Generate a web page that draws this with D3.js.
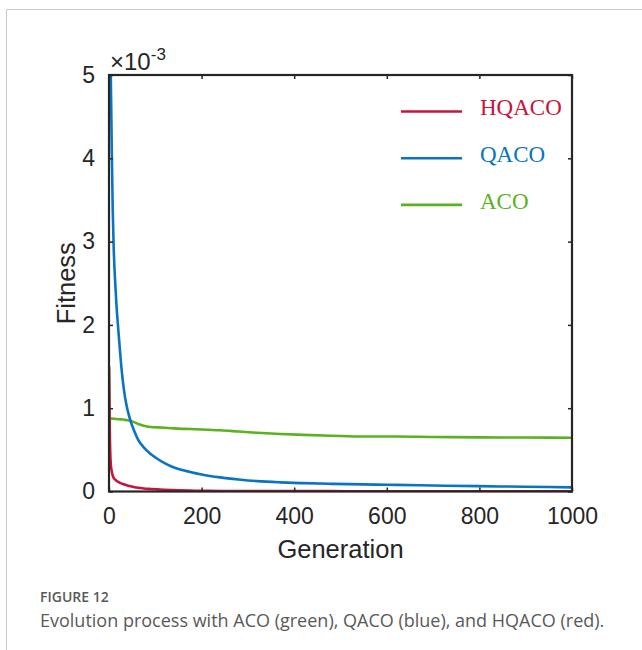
<!DOCTYPE html>
<html>
<head>
<meta charset="utf-8">
<script src="https://cdn.jsdelivr.net/npm/d3@7/dist/d3.min.js"></script>
<style>
  html, body { margin: 0; padding: 0; background: #fff; }
  svg { display: block; }
</style>
</head>
<body>
<svg id="chart" width="642" height="650"></svg>
<script>
// Generation grid (denser where the curves fall steeply)
const generations = [0, 1, 2, 3, 4, 6, 8, 10, 13, 16, 20, 25, 30, 35, 40, 47, 55, 63, 75, 90,
  105, 120, 135, 150, 175, 200, 240, 280, 320, 370, 420, 480, 550, 620, 700, 800, 900, 1000];

// Fitness values, in units of 1e-3
const hqaco = [1.5, 1.0, 0.62, 0.42, 0.32, 0.24, 0.19, 0.165, 0.145, 0.13, 0.115, 0.1, 0.09, 0.08,
  0.072, 0.062, 0.052, 0.044, 0.036, 0.03, 0.025, 0.02, 0.016, 0.013, 0.01, 0.008, 0.006, 0.005,
  0.005, 0.004, 0.004, 0.004, 0.003, 0.003, 0.003, 0.003, 0.003, 0.003];
const qaco = [6.5, 5.8, 5.45, 5.2, 4.95, 4.1, 3.4, 2.95, 2.55, 2.25, 1.95, 1.6, 1.32, 1.12, 0.98,
  0.84, 0.72, 0.62, 0.53, 0.45, 0.39, 0.34, 0.30, 0.27, 0.235, 0.205, 0.17, 0.145, 0.125, 0.11,
  0.1, 0.092, 0.085, 0.08, 0.072, 0.064, 0.057, 0.05];
const aco = [1.5, 0.88, 0.878, 0.877, 0.876, 0.875, 0.874, 0.873, 0.872, 0.87, 0.868, 0.866, 0.864,
  0.86, 0.855, 0.845, 0.83, 0.81, 0.79, 0.775, 0.77, 0.765, 0.76, 0.755, 0.75, 0.745, 0.735, 0.72,
  0.705, 0.69, 0.68, 0.67, 0.66, 0.66, 0.655, 0.65, 0.648, 0.645];

const xTicks = [0, 200, 400, 600, 800, 1000];
const yTicks = [0, 1, 2, 3, 4, 5];

const seriesNames = ["HQACO", "QACO", "ACO"];
const seriesColors = { HQACO: "#c8143c", QACO: "#0a74c4", ACO: "#5bb21f" };

const svg = d3.select("#chart");

// card outline
svg.append("path")
  .attr("d", "M6.5,650 V9.5 H642")
  .attr("fill", "none").attr("stroke", "#c8c8c8").attr("stroke-width", 1);

const plot = { left: 109, right: 572, top: 75, bottom: 491.5 };

const x = d3.scaleLinear().domain([0, 1000]).range([plot.left, plot.right]);
const y = d3.scaleLinear().domain([0, 5]).range([plot.bottom, plot.top]);

const axisFont = "'Liberation Sans', Arial, Helvetica, sans-serif";
const ink = "#262626";

svg.append("defs").append("clipPath").attr("id", "plotClip")
  .append("rect")
  .attr("x", plot.left).attr("y", plot.top)
  .attr("width", plot.right - plot.left).attr("height", plot.bottom - plot.top);

// curves: ACO, QACO, then HQACO on top
const line = d3.line()
  .x(d => x(d[0]))
  .y(d => y(d[1]))
  .curve(d3.curveMonotoneX);

const seriesData = { HQACO: hqaco, QACO: qaco, ACO: aco };
const curves = svg.append("g").attr("clip-path", "url(#plotClip)");
["ACO", "QACO", "HQACO"].forEach(name => {
  curves.append("path")
    .datum(generations.map((g, i) => [g, seriesData[name][i]]))
    .attr("d", line)
    .attr("fill", "none")
    .attr("stroke", seriesColors[name])
    .attr("stroke-width", 2.6)
    .attr("stroke-linejoin", "round");
});

// box frame with inward ticks on all sides
const tickLen = 4;
const axes = svg.append("g");
axes.append("g").attr("transform", `translate(0,${plot.bottom})`)
  .call(d3.axisBottom(x).tickValues(xTicks).tickSize(-tickLen).tickPadding(16).tickFormat(d3.format("d")));
axes.append("g").attr("transform", `translate(0,${plot.top})`)
  .call(d3.axisTop(x).tickValues(xTicks).tickSize(-tickLen).tickFormat(""));
axes.append("g").attr("transform", `translate(${plot.left},0)`)
  .call(d3.axisLeft(y).tickValues(yTicks).tickSize(-tickLen).tickPadding(14).tickFormat(d3.format("d")));
axes.append("g").attr("transform", `translate(${plot.right},0)`)
  .call(d3.axisRight(y).tickValues(yTicks).tickSize(-tickLen).tickFormat(""));

axes.selectAll(".domain").remove();
axes.selectAll(".tick line").attr("stroke", ink).attr("stroke-width", 1.5);
axes.selectAll(".tick text")
  .attr("fill", ink)
  .style("font-family", axisFont)
  .style("font-size", "23px");

svg.append("rect")
  .attr("x", plot.left).attr("y", plot.top)
  .attr("width", plot.right - plot.left).attr("height", plot.bottom - plot.top)
  .attr("fill", "none").attr("stroke", ink).attr("stroke-width", 2.2);

// exponent label
const expo = svg.append("text")
  .attr("x", 110).attr("y", 69.5)
  .attr("fill", ink)
  .style("font-family", axisFont)
  .style("font-size", "24px");
expo.append("tspan").text("×10");
expo.append("tspan").attr("dy", -10).style("font-size", "17px").text("-3");

// axis titles
svg.append("text")
  .attr("x", (plot.left + plot.right) / 2).attr("y", 558)
  .attr("text-anchor", "middle").attr("fill", ink)
  .style("font-family", axisFont).style("font-size", "25.5px")
  .text("Generation");
svg.append("text")
  .attr("transform", `translate(75,${(plot.top + plot.bottom) / 2}) rotate(-90)`)
  .attr("text-anchor", "middle").attr("fill", ink)
  .style("font-family", axisFont).style("font-size", "25.5px")
  .text("Fitness");

// legend
const legend = svg.append("g");
seriesNames.forEach((name, i) => {
  const ly = 111.5 + i * 46.7;
  legend.append("line")
    .attr("x1", 401).attr("x2", 462)
    .attr("y1", ly).attr("y2", ly)
    .attr("stroke", seriesColors[name]).attr("stroke-width", 2.6);
  legend.append("text")
    .attr("x", 480).attr("y", ly + 3.6)
    .attr("fill", seriesColors[name])
    .style("font-family", "'Liberation Serif', 'Times New Roman', serif")
    .style("font-size", "23px")
    .text(name);
});

// caption
svg.append("text")
  .attr("x", 40).attr("y", 602)
  .attr("fill", "#595959")
  .style("font-family", "'Open Sans', sans-serif")
  .style("font-size", "14px").style("font-weight", 600)
  .text("FIGURE 12");
svg.append("text")
  .attr("x", 40).attr("y", 627)
  .attr("fill", "#595959")
  .style("font-family", "'Open Sans', sans-serif")
  .style("font-size", "18px")
  .text("Evolution process with ACO (green), QACO (blue), and HQACO (red).");
</script>
</body>
</html>
